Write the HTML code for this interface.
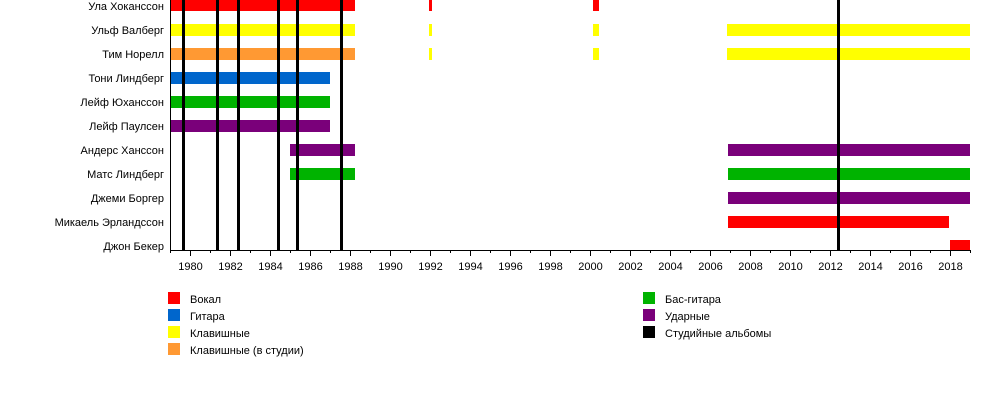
<!DOCTYPE html><html><head><meta charset="utf-8"><style>body{margin:0;background:#fff}svg{display:block}text{font-family:"Liberation Sans",sans-serif;font-size:11px;fill:#000}</style></head><body>
<svg width="1000" height="400" xmlns="http://www.w3.org/2000/svg">
<g text-anchor="end">
<text x="164" y="10">Ула Хоканссон</text>
<text x="164" y="34">Ульф Валберг</text>
<text x="164" y="58">Тим Норелл</text>
<text x="164" y="82">Тони Линдберг</text>
<text x="164" y="106">Лейф Юханссон</text>
<text x="164" y="130">Лейф Паулсен</text>
<text x="164" y="154">Андерс Ханссон</text>
<text x="164" y="178">Матс Линдберг</text>
<text x="164" y="202">Джеми Боргер</text>
<text x="164" y="226">Микаель Эрландссон</text>
<text x="164" y="250">Джон Бекер</text>
</g>
<g>
<rect x="171" y="0" width="184" height="11" fill="#f00"/>
<rect x="429" y="0" width="3" height="11" fill="#f00"/>
<rect x="593" y="0" width="6" height="11" fill="#f00"/>
<rect x="171" y="24" width="184" height="12" fill="#ff0"/>
<rect x="429" y="24" width="3" height="12" fill="#ff0"/>
<rect x="593" y="24" width="6" height="12" fill="#ff0"/>
<rect x="727" y="24" width="243" height="12" fill="#ff0"/>
<rect x="171" y="48" width="184" height="12" fill="#f93"/>
<rect x="429" y="48" width="3" height="12" fill="#ff0"/>
<rect x="593" y="48" width="6" height="12" fill="#ff0"/>
<rect x="727" y="48" width="243" height="12" fill="#ff0"/>
<rect x="171" y="72" width="159" height="12" fill="#0066cc"/>
<rect x="171" y="96" width="159" height="12" fill="#00b300"/>
<rect x="171" y="120" width="159" height="12" fill="#7a007a"/>
<rect x="290" y="144" width="65" height="12" fill="#7a007a"/>
<rect x="728" y="144" width="242" height="12" fill="#7a007a"/>
<rect x="290" y="168" width="65" height="12" fill="#00b300"/>
<rect x="728" y="168" width="242" height="12" fill="#00b300"/>
<rect x="728" y="192" width="242" height="12" fill="#7a007a"/>
<rect x="728" y="216" width="221" height="12" fill="#f00"/>
<rect x="950" y="240" width="20" height="10" fill="#f00"/>
</g>
<g fill="#000">
<rect x="182" y="0" width="3" height="250"/><rect x="216" y="0" width="3" height="250"/>
<rect x="237" y="0" width="3" height="250"/><rect x="277" y="0" width="3" height="250"/>
<rect x="296" y="0" width="3" height="250"/><rect x="340" y="0" width="3" height="250"/>
<rect x="837" y="0" width="3" height="250"/>
</g>
<line x1="170.5" y1="0" x2="170.5" y2="250" stroke="#000"/>
<line x1="170" y1="250.5" x2="970" y2="250.5" stroke="#000"/>
<g id="ticks" stroke="#000"></g>
<g id="lbl" text-anchor="middle"></g>
<g>
<rect x="168" y="292" width="12" height="12" fill="#f00"/><text x="190" y="303">Вокал</text>
<rect x="168" y="309" width="12" height="12" fill="#0066cc"/><text x="190" y="320">Гитара</text>
<rect x="168" y="326" width="12" height="12" fill="#ff0"/><text x="190" y="337">Клавишные</text>
<rect x="168" y="343" width="12" height="12" fill="#f93"/><text x="190" y="354">Клавишные (в студии)</text>
<rect x="643" y="292" width="12" height="12" fill="#00b300"/><text x="665" y="303">Бас-гитара</text>
<rect x="643" y="309" width="12" height="12" fill="#7a007a"/><text x="665" y="320">Ударные</text>
<rect x="643" y="326" width="12" height="12" fill="#000"/><text x="665" y="337">Студийные альбомы</text>
</g>
</svg>
<script>
var t=document.getElementById('ticks'),l=document.getElementById('lbl'),ns='http://www.w3.org/2000/svg';
for(var y=1979;y<=2019;y++){var x=190+(y-1980)*20+0.5;var ln=document.createElementNS(ns,'line');ln.setAttribute('x1',x);ln.setAttribute('x2',x);ln.setAttribute('y1',250);ln.setAttribute('y2',y%2==0?256:253);t.appendChild(ln);
if(y%2==0){var tx=document.createElementNS(ns,'text');tx.setAttribute('x',x);tx.setAttribute('y',270);tx.textContent=y;l.appendChild(tx);}}
</script>
</body></html>
